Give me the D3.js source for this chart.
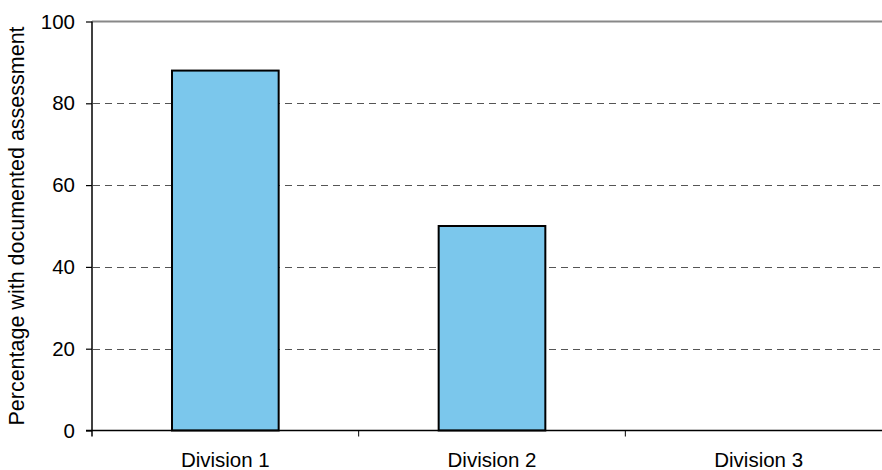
<!DOCTYPE html>
<html>
<head>
<meta charset="utf-8">
<script src="https://cdn.jsdelivr.net/npm/d3@7/dist/d3.min.js"></script>
<style>
  html, body { margin: 0; padding: 0; background: #fff; }
  svg { display: block; }
  text { font-family: "Liberation Sans", Arial, Helvetica, sans-serif; fill: #000; }
</style>
</head>
<body>
<svg id="chart" width="882" height="470"></svg>
<script>
// Share of cases with a documented assessment, by division
const categories = ["Division 1", "Division 2", "Division 3"];
const values = [88, 50, 0];
const yTicks = [0, 20, 40, 60, 80, 100];
const yTitle = "Percentage with documented assessment";

const FONT = 20.5;
const TITLE_FONT = 21.5;
const svg = d3.select("#chart");
const margin = { top: 21.5, right: -10, bottom: 39.5, left: 92 };
const W = 882, H = 470;
const x0 = margin.left, x1 = W - margin.right;
const y0 = H - margin.bottom, y1 = margin.top;

const x = d3.scaleBand().domain(categories).range([x0, x1]).paddingInner(0).paddingOuter(0);
const y = d3.scaleLinear().domain([0, 100]).range([y0, y1]);

// Gridlines: dashed for interior ticks, solid grey at the top
const grid = svg.append("g");
grid.selectAll("line.dash")
  .data(yTicks.filter(t => t > 0 && t < 100))
  .join("line")
  .attr("x1", x0 + 1).attr("x2", W)
  .attr("y1", d => Math.round(y(d)) + 0.5).attr("y2", d => Math.round(y(d)) + 0.5)
  .attr("stroke", "#555").attr("stroke-width", 1)
  .attr("stroke-dasharray", "7,5");
grid.append("line")
  .attr("x1", x0).attr("x2", W)
  .attr("y1", y(100)).attr("y2", y(100))
  .attr("stroke", "#888").attr("stroke-width", 2);

// Bars
const barW = x.bandwidth() * 0.4;
svg.append("g").selectAll("rect")
  .data(categories.map((c, i) => ({ c, v: values[i] })).filter(d => d.v > 0))
  .join("rect")
  .attr("x", d => x(d.c) + (x.bandwidth() - barW) / 2)
  .attr("y", d => y(d.v))
  .attr("width", barW)
  .attr("height", d => y(0) - y(d.v))
  .attr("fill", "#7bc7ec")
  .attr("stroke", "#000")
  .attr("stroke-width", 2);

// Y axis
const yAxis = svg.append("g")
  .attr("transform", `translate(${x0},0)`)
  .call(d3.axisLeft(y).tickValues(yTicks).tickSize(6).tickPadding(11).tickFormat(d3.format("d")));
yAxis.select(".domain").attr("stroke", "#000").attr("stroke-width", 1.5).attr("d", `M0,${y0 + 6}V${y1}`);
yAxis.selectAll(".tick line").attr("stroke", "#000").attr("stroke-width", 1.2);
yAxis.selectAll(".tick text").attr("font-size", FONT).attr("font-family", "Liberation Sans, Arial, sans-serif").attr("fill", "#000");

// X axis with ticks at category boundaries
const xAxisG = svg.append("g").attr("transform", `translate(0,${y0})`);
xAxisG.append("line")
  .attr("x1", x0 - 6).attr("x2", W)
  .attr("y1", 0).attr("y2", 0)
  .attr("stroke", "#000").attr("stroke-width", 1.5);
xAxisG.selectAll("line.bound")
  .data(categories.slice(1))
  .join("line")
  .attr("x1", d => x(d)).attr("x2", d => x(d))
  .attr("y1", 0).attr("y2", 6)
  .attr("stroke", "#000").attr("stroke-width", 1);
xAxisG.selectAll("text")
  .data(categories)
  .join("text")
  .attr("x", d => x(d) + x.bandwidth() / 2)
  .attr("y", 36.5)
  .attr("text-anchor", "middle")
  .attr("font-size", FONT)
  .text(d => d);

// Y axis title
svg.append("text")
  .attr("transform", `translate(24,${(y0 + y1) / 2}) rotate(-90)`)
  .attr("text-anchor", "middle")
  .attr("font-size", TITLE_FONT)
  .text(yTitle);
</script>
</body>
</html>
